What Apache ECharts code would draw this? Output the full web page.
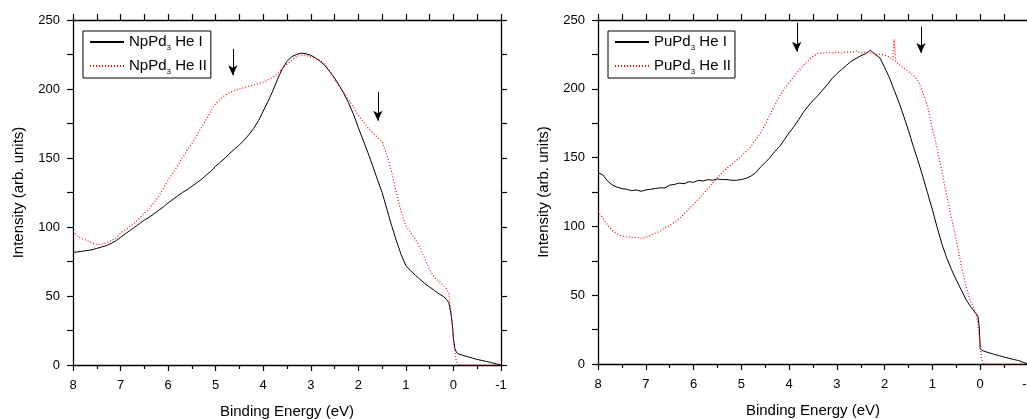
<!DOCTYPE html>
<html><head><meta charset="utf-8">
<script src="https://cdn.jsdelivr.net/npm/echarts@6/dist/echarts.min.js"></script>
<style>html,body{margin:0;padding:0;background:#fff}#c{width:1027px;height:419px}</style>
</head><body><div id="c"></div><script>
// ---- data (binding energy in eV, intensity in arb. units) ----
const energyGrid = [8.0,7.9,7.8,7.7,7.6,7.5,7.4,7.3,7.2,7.1,7.0,6.9,6.8,6.7,6.6,6.5,6.4,6.3,6.2,6.1,
  6.0,5.9,5.8,5.7,5.6,5.5,5.4,5.3,5.2,5.1,5.0,4.9,4.8,4.7,4.6,4.5,4.4,4.3,4.2,4.1,
  4.0,3.9,3.8,3.7,3.6,3.5,3.4,3.3,3.2,3.1,3.0,2.9,2.8,2.7,2.6,2.5,2.4,2.3,2.2,2.1,
  2.0,1.9,1.8,1.7,1.6,1.5,1.4,1.3,1.2,1.1,1.0,0.9,0.8,0.7,0.6,0.5,0.4,0.3,
  0.2,0.15,0.1,0.05,0.02,0,-0.03,-0.06,-0.1,-0.2,-0.3,-0.4,-0.5,-0.6,-0.7,-0.8,-0.9,-1.0];

const npHeI = [81.5,82,82.5,83,83.5,84.5,85.5,86.5,88,90,92.5,95,97.5,100,102.5,105,107,109.5,112,114.5,
  117.5,120,122.5,125,127,129.5,132,134.5,137.5,140.5,144,147,150,153.5,156.5,159.5,163,167,171.5,177,
  184,191,198.5,207,214.5,220,223.5,225,226,225.5,224.5,222.5,220,217,212.5,208,202.5,196.5,189.5,181.5,
  172,163,154,144.5,134.5,125,113,101,90,80,72,68.5,65,62,59,56.5,54,51.5,
  49.5,47.5,45.5,37,28,19,12,9.5,8,7,6,5,4,3.3,2.5,1.7,0.8,0];

const npHeII = [97,93,91.5,90,88.5,87,87.5,88.5,90,92,95.5,98,100.5,103,106.5,110,113.5,117.5,122,128,
  134,139,144.5,150,155.5,160.5,166,172,178,184,189.5,193,195.5,197.5,199,200,201,202,203,204,
  205,206.5,208.5,211,215,218,221,223.5,224.5,224.5,223.5,222,220.5,218,213,207,202,197,192,186.5,
  181,176.5,172,168.5,165,162,152,140,125,111,101,96,91,85,77,69,63.5,60.5,
  57,55.5,52,38,27,18,9,3,0.5,0,0,0,0,0,0,0,0,0];

const puHeI = [139,137.5,133,130,128.5,127.5,127,126,126.5,125.5,126.5,127,127.5,128,128,130,130.5,131.5,131,132.5,
  132,133.5,133,134,133.5,134.5,134,134,133.5,133.5,134,135,136.5,139,143,146.5,150,154.5,158,163,
  168,172.5,177.5,183,187.5,191.5,195,199,203,207.5,211,214,217,220,222,224,225.5,228,225,222.5,
  215.5,208,199,190,180,169.5,158,147.5,136,124,112,99,87,77,68.5,61,54,47,
  41.5,39.5,37,35,27,11,10,9.5,9,8,7,6,5,4.2,3.3,2.5,1.2,0];

const puEnergyII = [8.0,7.9,7.8,7.7,7.6,7.5,7.4,7.3,7.2,7.1,7.0,6.9,6.8,6.7,6.6,6.5,6.4,6.3,6.2,6.1,
  6.0,5.9,5.8,5.7,5.6,5.5,5.4,5.3,5.2,5.1,5.0,4.9,4.8,4.7,4.6,4.5,4.4,4.3,4.2,4.1,
  4.0,3.9,3.8,3.7,3.6,3.5,3.4,3.3,3.2,3.1,3.0,2.9,2.8,2.7,2.6,2.5,2.4,2.3,2.2,2.1,
  2.0,1.9,1.83,1.8,1.77,1.7,1.6,1.5,1.4,1.3,1.2,1.1,1.0,0.9,0.8,0.7,0.6,0.5,0.4,0.3,
  0.2,0.15,0.1,0.05,0.02,0,-0.03,-0.06,-0.1,-0.2,-0.3,-0.4,-0.5,-0.6,-0.7,-0.8,-0.9,-1.0];

const puHeII = [111,106,101,97,94.5,93,92.5,92,92,91.5,92,93.5,95,96.5,99,100.5,103,105.5,109,112.5,
  116,120,123.5,127.5,131.5,135.5,139,142.5,145,148,151,154.5,158,163,168,174,181,188,194.5,200,
  204.5,209,213,217,220.5,223.5,225.5,226,226.5,226,226.5,226,227,226.5,227.5,226,226.5,226,225.5,225,
  224.5,223,221,236,220,217.5,215,212.5,210,205.5,197,187,171,156,140,122,106,90,72,57,
  45,41.5,38,30,20,12,4,0.5,0,0,0,0,0,0,0,0,0,0];

// arrows: [energy, from intensity, to intensity]
const npArrows = [[4.64, 229, 210], [1.59, 198, 177]];
const puArrows = [[3.84, 248, 227], [1.24, 245, 226]];

const npNames = ['NpPd3 He I', 'NpPd3 He II'];
const puNames = ['PuPd3 He I', 'PuPd3 He II'];
const xTitle = 'Binding Energy (eV)';
const yTitle = 'Intensity (arb. units)';

// ---- chart ----
const FONT = '"Liberation Sans", Arial, sans-serif';
const zip = (xs, ys) => xs.map((x, i) => [x, ys[i]]);
const axisLineStyle = {color: '#000', width: 1.3};
const tickStyle = {color: '#000', width: 1.2};

function xAxes(g) {
  return [{
    gridIndex: g, type: 'value', min: -1, max: 8, interval: 1, inverse: true, position: 'bottom',
    axisLine: {onZero: false, lineStyle: axisLineStyle},
    axisTick: {length: 6, lineStyle: tickStyle},
    minorTick: {show: true, splitNumber: 2, length: 4, lineStyle: tickStyle},
    splitLine: {show: false}, minorSplitLine: {show: false},
    axisLabel: {margin: 14, fontSize: 13, color: '#000', fontFamily: FONT},
    name: xTitle, nameLocation: 'middle', nameGap: 39,
    nameTextStyle: {fontSize: 15, color: '#000', fontFamily: FONT}
  }, {
    gridIndex: g, type: 'value', min: -1, max: 8, interval: 0.5, inverse: true, position: 'top',
    axisLine: {onZero: false, lineStyle: axisLineStyle},
    axisTick: {length: 6, lineStyle: tickStyle},
    splitLine: {show: false}, axisLabel: {show: false}
  }];
}
function yAxes(g) {
  return [{
    gridIndex: g, type: 'value', min: 0, max: 250, interval: 50, position: 'left',
    axisLine: {show: true, onZero: false, lineStyle: axisLineStyle},
    axisTick: {show: true, length: 6, lineStyle: tickStyle},
    minorTick: {show: true, splitNumber: 2, length: 6, lineStyle: tickStyle},
    splitLine: {show: false}, minorSplitLine: {show: false},
    axisLabel: {margin: 13, fontSize: 13, color: '#000', fontFamily: FONT},
    name: yTitle, nameLocation: 'middle', nameGap: 47,
    nameTextStyle: {fontSize: 15, color: '#000', fontFamily: FONT}
  }, {
    gridIndex: g, type: 'value', min: 0, max: 250, interval: 50, position: 'right',
    axisLine: {show: true, onZero: false, lineStyle: axisLineStyle},
    axisTick: {show: true, length: 6, lineStyle: tickStyle},
    minorTick: {show: true, splitNumber: 2, length: 6, lineStyle: tickStyle},
    splitLine: {show: false}, axisLabel: {show: false}
  }];
}
function legendOf(names, left) {
  return {
    data: names, left: left, top: 31, orient: 'vertical',
    borderColor: '#000', borderWidth: 1, padding: [3.5, 4, 2, 6], itemGap: 6.5,
    itemWidth: 34, itemHeight: 12, selectedMode: false,
    itemStyle: {opacity: 0},
    formatter: n => '{a|' + n.slice(0, 4) + '}{s|3}{a|' + n.slice(5) + '}',
    textStyle: {
      color: '#000', fontFamily: FONT, fontSize: 15,
      rich: {
        a: {fontSize: 15, fontFamily: FONT, color: '#000', lineHeight: 20},
        s: {fontSize: 8, fontFamily: FONT, color: '#000', lineHeight: 1, verticalAlign: 'bottom'}
      }
    }
  };
}
function arrowLine(arrows) {
  return {
    silent: true, symbol: ['none', 'arrow'], symbolSize: [7, 10], animation: false,
    label: {show: false}, emphasis: {disabled: true},
    lineStyle: {color: '#000', width: 1, type: 'solid'},
    data: arrows.map(a => [{coord: [a[0], a[1]]}, {coord: [a[0], a[2]]}])
  };
}
function seriesOf(name, xi, yi, data, red, arrows) {
  const s = {
    name: name, type: 'line', xAxisIndex: xi, yAxisIndex: yi, data: data,
    showSymbol: false, symbol: 'none', smooth: false,
    lineStyle: red ? {color: '#ff0000', width: 1.2, type: [1, 2]} : {color: '#000', width: 1},
    itemStyle: {color: red ? '#ff0000' : '#000'},
    emphasis: {disabled: true}
  };
  if (arrows) s.markLine = arrowLine(arrows);
  return s;
}

const chart = echarts.init(document.getElementById('c'), null, {renderer: 'canvas'});
chart.setOption({
  animation: false,
  backgroundColor: '#fff',
  grid: [
    {left: 73, top: 20, width: 428, height: 345, outerBoundsMode: 'none', containLabel: false},
    {left: 598, top: 20, width: 430, height: 344, outerBoundsMode: 'none', containLabel: false}
  ],
  xAxis: [...xAxes(0), ...xAxes(1)],
  yAxis: [...yAxes(0), ...yAxes(1)],
  legend: [legendOf(npNames, 83), legendOf(puNames, 608)],
  series: [
    seriesOf(npNames[0], 0, 0, zip(energyGrid, npHeI), false, npArrows),
    seriesOf(npNames[1], 0, 0, zip(energyGrid, npHeII), true),
    seriesOf(puNames[0], 2, 2, zip(energyGrid, puHeI), false, puArrows),
    seriesOf(puNames[1], 2, 2, zip(puEnergyII, puHeII), true)
  ]
});
</script></body></html>
